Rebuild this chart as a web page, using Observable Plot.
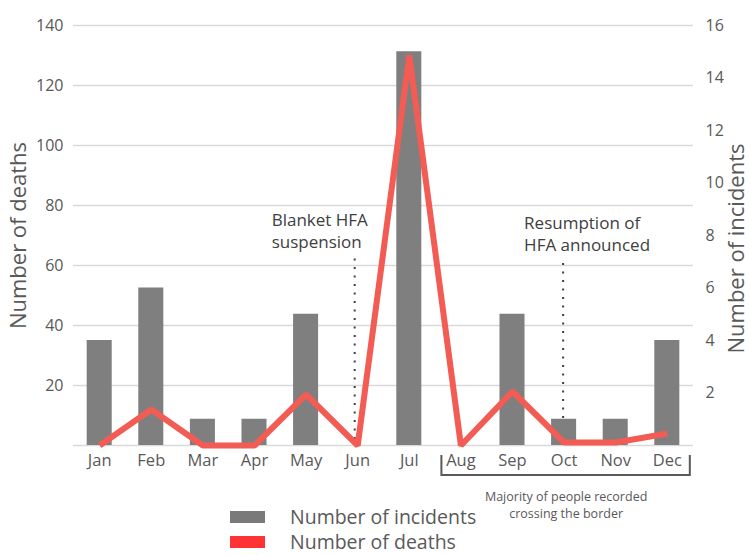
<!DOCTYPE html>
<html>
<head>
<meta charset="utf-8">
<script src="https://cdn.jsdelivr.net/npm/d3@7"></script>
<script src="https://cdn.jsdelivr.net/npm/@observablehq/plot@0.6"></script>
<style>
  html, body { margin: 0; padding: 0; background: #fff; }
  #wrap { position: relative; width: 750px; height: 555px; overflow: hidden; font-family: "Open Sans", sans-serif; color: #595959; }
  .leg { position: absolute; left: 230px; display: flex; align-items: center; font-size: 19.5px; line-height: 24px; height: 24px; }
  .sw { width: 35px; height: 12px; margin-right: 25px; }
</style>
</head>
<body>
<div id="wrap"></div>
<script>
const months = ["Jan","Feb","Mar","Apr","May","Jun","Jul","Aug","Sep","Oct","Nov","Dec"];
const incidents = [4, 6, 1, 1, 5, 0, 15, 0, 5, 1, 1, 4];
const deaths = [0, 12, 0, 0, 17, 0, 130, 0, 18, 1, 1, 4];
const leftTicks = [20, 40, 60, 80, 100, 120, 140];
const rightTicks = [2, 4, 6, 8, 10, 12, 14, 16];
const gridTicks = [0, 20, 40, 60, 80, 100, 120, 140];
const seriesNames = ["Number of incidents", "Number of deaths"];
const annotations = [
  {month: "Jun", text: "Blanket HFA\nsuspension"},
  {month: "Oct", text: "Resumption of\nHFA announced"}
];
const bracketNote = "Majority of people recorded\ncrossing the border";
const bracketRange = ["Aug", "Dec"];

const ratio = 140 / 16;
const data = months.map((m, i) => ({month: m, incidents: incidents[i], deaths: deaths[i]}));

const chart = Plot.plot({
  width: 750, height: 520,
  marginLeft: 73, marginRight: 57, marginTop: 25, marginBottom: 75,
  style: {fontFamily: "Open Sans, sans-serif", fontSize: "16px", color: "#595959", background: "white", overflow: "visible"},
  x: {domain: months, paddingInner: 0.515, paddingOuter: 0.265, round: false, axis: null},
  y: {domain: [0, 140], axis: null},
  marks: [
    Plot.ruleY(gridTicks, {stroke: "#d9d9d9", strokeWidth: 1.5}),
    Plot.barY(data, {x: "month", y: d => d.incidents * ratio, fill: "#7f7f7f"}),
    Plot.ruleX([annotations[0]], {x: "month", y1: 2, y2: 63, dx: -3, stroke: "#404040", strokeWidth: 2, strokeDasharray: "2,6.5"}),
    Plot.ruleX([annotations[1]], {x: "month", y1: 9, y2: 62, dx: -1, stroke: "#404040", strokeWidth: 2, strokeDasharray: "2,6.5"}),
    Plot.line(data, {x: "month", y: "deaths", stroke: "#f25c55", strokeWidth: 6, strokeLinejoin: "miter", strokeLinecap: "butt"}),
    Plot.text([annotations[0]], {x: "month", y: 72, text: "text", textAnchor: "start", dx: -86, lineHeight: 1.3, fontSize: 17, fill: "#404040"}),
    Plot.text([annotations[1]], {x: "month", y: 71, text: "text", textAnchor: "start", dx: -40, lineHeight: 1.3, fontSize: 17, fill: "#404040"}),
    Plot.axisX({tickSize: 0, tickPadding: 9, fontSize: 16.5, label: null, fill: "#595959"}),
    Plot.axisY(leftTicks, {tickSize: 0, tickPadding: 10, label: null, fontSize: 16, fill: "#595959"}),
    Plot.axisY(rightTicks.map(v => v * ratio), {anchor: "right", tickSize: 0, tickPadding: 12, tickFormat: d => Math.round(d / ratio), label: null, fontSize: 16, fill: "#595959"}),
    Plot.text([seriesNames[1]], {frameAnchor: "left", textAnchor: "middle", dx: -55, rotate: -90, fontSize: 22, fill: "#595959"}),
    Plot.text([seriesNames[0]], {frameAnchor: "right", textAnchor: "middle", dx: 43, dy: 13, rotate: -90, fontSize: 22, fill: "#595959"}),
    // bracket under Aug–Dec
    Plot.ruleY([-10], {
      render: (I, {x, y}) => {
        const bw = x.bandwidth ? x.bandwidth() : 0;
        const x1 = x(bracketRange[0]) + bw / 2 - 19;
        const x2 = x(bracketRange[1]) + bw / 2 + 23;
        const yb = y(-10), yt = y(-3.3);
        const g = d3.create("svg:g");
        g.append("path")
          .attr("d", `M${x1},${yt}V${yb}H${x2}V${yt}`)
          .attr("fill", "none").attr("stroke", "#595959").attr("stroke-width", 2);
        return g.node();
      }
    }),
    Plot.text([bracketNote], {x: () => "Oct", y: -19.5, dx: 2, fontSize: 12.5, lineHeight: 1.36, fill: "#595959"})
  ]
});

const wrap = document.getElementById("wrap");
wrap.appendChild(chart);
const legendItems = [
  {name: seriesNames[0], color: "#7a7a7a", top: 505},
  {name: seriesNames[1], color: "#ff3333", top: 530}
];
for (const item of legendItems) {
  const div = document.createElement("div");
  div.className = "leg";
  div.style.top = item.top + "px";
  div.innerHTML = `<span class="sw" style="background:${item.color}"></span><span>${item.name}</span>`;
  wrap.appendChild(div);
}
</script>
</body>
</html>
